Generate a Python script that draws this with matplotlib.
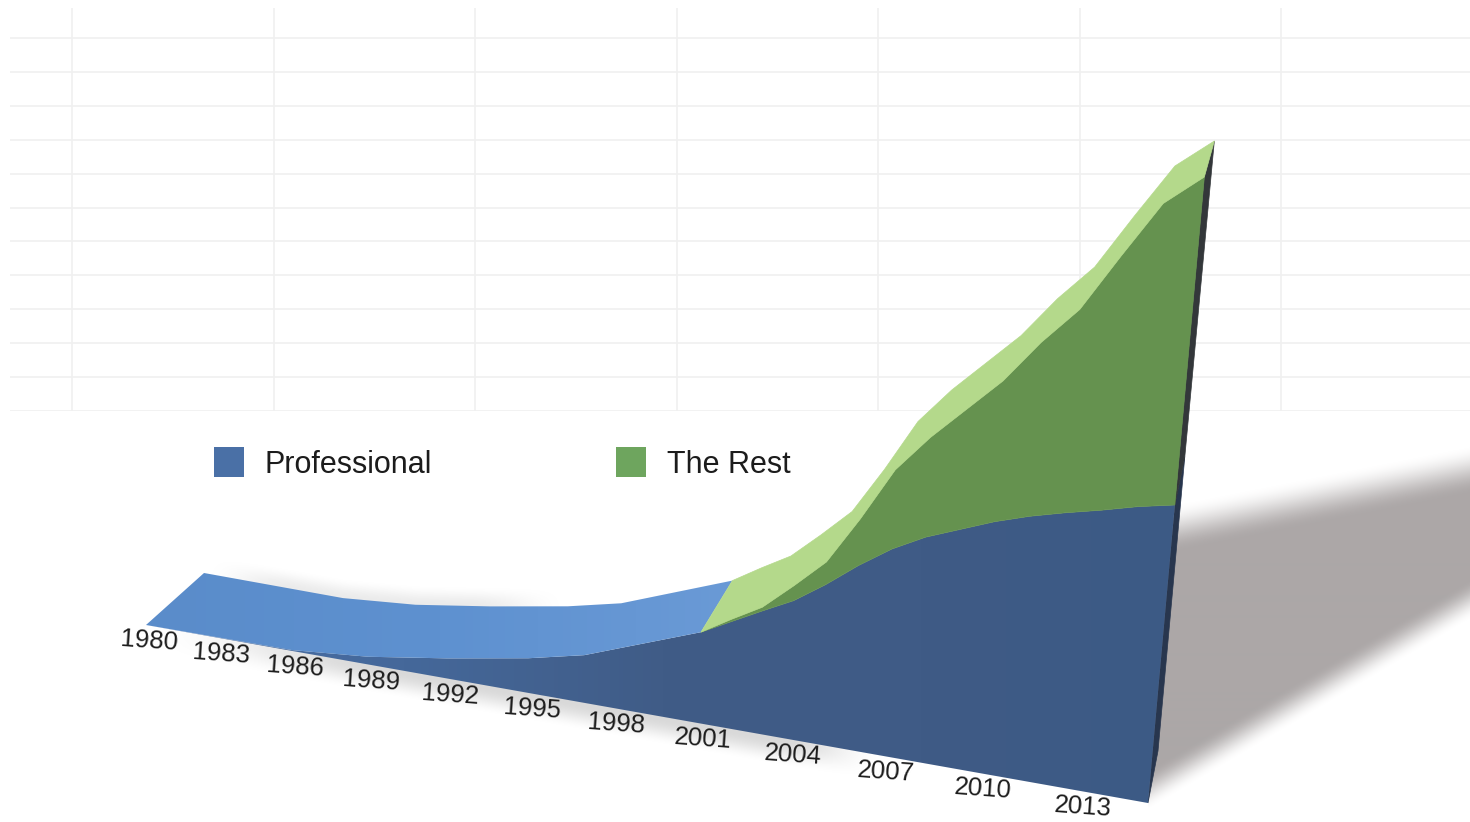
import numpy as np
import matplotlib
matplotlib.use('Agg')
import matplotlib.pyplot as plt
from matplotlib.patches import Polygon, Rectangle
from matplotlib.colors import LinearSegmentedColormap

plt.rcParams['font.family'] = ['Liberation Sans', 'DejaVu Sans']

years = np.array([1980, 1983, 1986, 1989, 1992, 1995, 1997, 2001, 2002, 2003, 2004, 2005, 2006,
                  2007, 2008, 2010, 2011, 2012, 2013, 2014, 2015])
professional = np.array([0, 0.5, 1, 9, 23, 39, 53, 99, 115.5, 132, 148, 170, 195,
                         217, 234, 259, 269, 277, 284, 292, 298], dtype=float)
the_rest = np.array([0, 0, 0, 0, 0, 0, 0, 0, 2.5, 4, 16, 24, 49,
                     83, 104, 145, 178, 207, 257, 305, 328], dtype=float)
tick_years = [1980, 1983, 1986, 1989, 1992, 1995, 1998, 2001, 2004, 2007, 2010, 2013]
series_names = ['Professional', 'The Rest']

W, H = 1470, 822
split = list(years).index(2001)


# perspective of the front wall, value 0 is the floor line
def project(year, value):
    s = (np.asarray(year, dtype=float) - 1980) / 35.0
    d = 1 + 0.2125 * (1 - s)
    f = s / d
    h = np.asarray(value, dtype=float) / d
    return 146 + 1002 * f + 0.09 * (2 * f - 1) * h, 625 + 178 * f - h


# same point moved to the back of the wall
def project_back(year, value):
    s = (np.asarray(year, dtype=float) - 1980) / 35.0
    f = s / (1 + 0.2125 * (1 - s))
    x, y = project(year, value)
    v = np.asarray(value, dtype=float)
    return x + 58 - 48 * f, y - (52 - 16 * (v / 626.0) ** 2)


def poly(x1, y1, x2, y2):
    return np.column_stack([np.r_[x1, x2[::-1]], np.r_[y1, y2[::-1]]])


def smooth(t):
    t = np.clip(t, 0, 1)
    return t * t * (3 - 2 * t)


# opacity of a grey halo around a polyline, tapered towards both of its ends
def halo(px, py, x, y, reach, strength):
    dist = np.full(px.shape, 1e9)
    along = np.zeros(px.shape)
    for i in range(len(x) - 1):
        ex, ey = x[i + 1] - x[i], y[i + 1] - y[i]
        t = np.clip(((px - x[i]) * ex + (py - y[i]) * ey) / (ex * ex + ey * ey), 0, 1)
        d = np.hypot(px - x[i] - t * ex, py - y[i] - t * ey)
        closer = d < dist
        dist[closer] = d[closer]
        along[closer] = ((i + t) / (len(x) - 1))[closer]
    taper = smooth(along / 0.25) * smooth((1 - along) / 0.25)
    return strength * taper * smooth(1 - dist / reach)


def gradient_fill(ax, patch, colors, x0, x1, y0, y1, zorder):
    ax.add_patch(patch)
    cmap = LinearSegmentedColormap.from_list('fill', colors)
    im = ax.imshow(np.linspace(0, 1, 256).reshape(1, -1), extent=(x0, x1, y1, y0), aspect='auto',
                   cmap=cmap, zorder=zorder)
    im.set_clip_path(patch)


fig = plt.figure(figsize=(W / 100, H / 100), dpi=100, facecolor='white')

# background grid
gx0, gx1, gy0, gy1 = 10, 1470, 8, 411
ax_grid = fig.add_axes([gx0 / W, 1 - gy1 / H, (gx1 - gx0) / W, (gy1 - gy0) / H])
ax_grid.set_xlim((gx0 - 72) / 201.5, (gx1 - 72) / 201.5)
ax_grid.set_ylim(0, (gy1 - gy0) / 33.9)
ax_grid.set_xticks(np.arange(7))
ax_grid.set_yticks(np.arange(12))
ax_grid.tick_params(length=0, labelbottom=False, labelleft=False)
ax_grid.grid(True, color='#f0f0f0', lw=1.2)
ax_grid.set_axisbelow(True)
for sp in ax_grid.spines.values():
    sp.set_visible(False)

ax = fig.add_axes([0, 0, 1, 1])
ax.patch.set_alpha(0)
ax.axis('off')

prof_x, prof_y = project(years, professional)
total = professional + the_rest
total_x, total_y = project(years, total)
base_x, base_y = project(years, np.zeros(len(years)))
back_x, back_y = project_back(years, total)

# cast shadow on the right plus the soft halos, all in one layer
px, py = np.meshgrid(np.arange(W) + 0.5, np.arange(H) + 0.5)
top_edge = 527 - (px - 1180) * (527 - 470) / 290.0
low_edge = 785 - (px - 1157) * 0.591
shade = smooth((py - top_edge + 24) / 48.0) * smooth((low_edge - py + 20) / 40.0) * (px > 1148)
near = years <= 2007
early = years <= 1995
glow = np.maximum(halo(px, py, base_x[near], base_y[near] + 2, 26, 0.3),
                  halo(px, py, back_x[early], back_y[early], 20, 0.16))
weight = np.maximum(shade + glow, 1e-6)
layer = np.zeros(px.shape + (4,))
for c, (sh_c, gl_c) in enumerate(zip([172, 167, 167], [128, 128, 128])):
    layer[..., c] = (shade * sh_c + glow * gl_c) / weight / 255.0
layer[..., 3] = 1 - (1 - shade) * (1 - glow)
ax.imshow(layer, extent=(0, W, H, 0), aspect='auto', zorder=1)

# front wall, professional part with a slight left to right shift in tone
gradient_fill(ax, Polygon(poly(base_x, base_y, prof_x, prof_y), closed=True, fc='none', ec='none', zorder=4),
              ['#4a70a8', '#45689a', '#405c87', '#3f5b86', '#3c5a85'], 146, 1180, 480, H, 4)

# front wall, the rest
ax.add_patch(Polygon(poly(prof_x[split:], prof_y[split:], total_x[split:], total_y[split:]),
                     closed=True, fc='#65924f', ec='#65924f', lw=0.5, zorder=4))

# top ribbon
gradient_fill(ax, Polygon(poly(total_x[:split + 1], total_y[:split + 1], back_x[:split + 1], back_y[:split + 1]),
                          closed=True, fc='none', ec='none', zorder=5),
              ['#5a8cca', '#5e91d0', '#6a9ad6'], 146, 735, 570, 665, 5)
ax.add_patch(Polygon(poly(total_x[split:], total_y[split:], back_x[split:], back_y[split:]),
                     closed=True, fc='#b4d98b', ec='#b4d98b', lw=0.5, zorder=5))

# end wall at the last year
end = years[-1]
fx0, fy0 = project(end, 0)
fx1, fy1 = project(end, professional[-1])
fx2, fy2 = project(end, total[-1])
bx0, by0 = project_back(end, 0)
bx1, by1 = project_back(end, professional[-1])
bx2, by2 = project_back(end, total[-1])
ax.add_patch(Polygon([(fx0, fy0), (fx1, fy1), (bx1, by1), (bx0, by0)], closed=True,
                     fc='#28364e', ec='#28364e', lw=0.5, zorder=3))
ax.add_patch(Polygon([(fx1, fy1), (fx2, fy2), (bx2, by2), (bx1, by1)], closed=True,
                     fc='#33373a', ec='#33373a', lw=0.5, zorder=3))

# year labels under the floor line
for yr in tick_years:
    tx, ty = project(yr, 0)
    ax.text(tx + 3, ty + 16, str(yr), fontsize=18.5, color='#1c1c1c', ha='center', va='center',
            rotation=-4, rotation_mode='anchor', zorder=6)

# legend
for name, color, lx in zip(series_names, ['#4a70a6', '#6ea55e'], [214, 616]):
    ax.add_patch(Rectangle((lx, 447), 30, 30, fc=color, ec='none', zorder=6))
    ax.text(lx + 51, 473, name, fontsize=22, color='#1c1c1c', ha='left', va='baseline', zorder=6)

ax.set_xlim(0, W)
ax.set_ylim(H, 0)

fig.savefig('out.png', dpi=100, facecolor='white')
